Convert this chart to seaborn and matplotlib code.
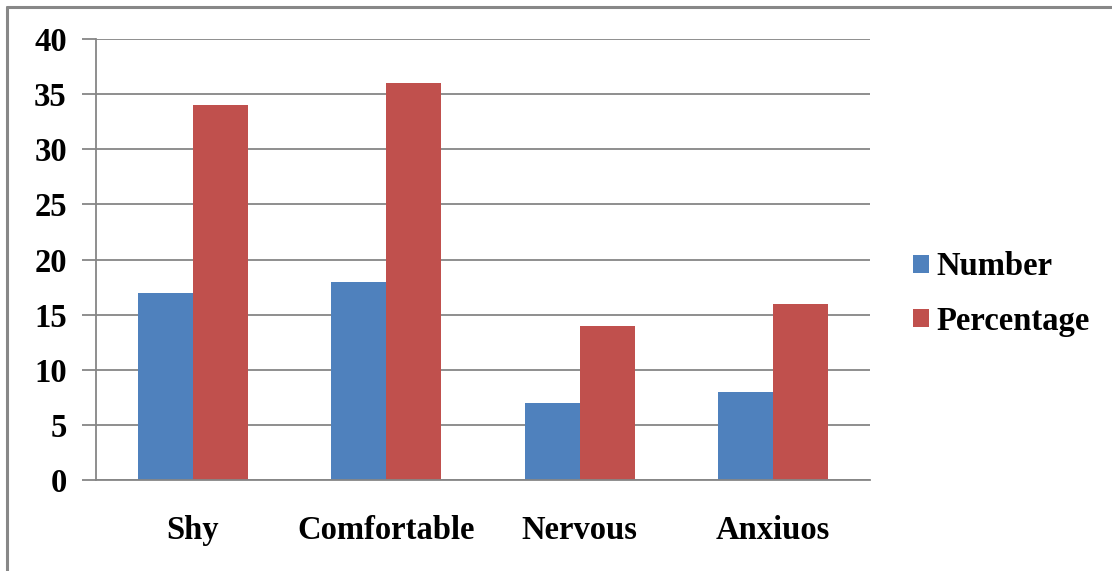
import matplotlib
matplotlib.use("Agg")
import matplotlib.pyplot as plt
from matplotlib.lines import Line2D
from matplotlib.patches import Patch
import seaborn as sns
import pandas as pd

categories = ["Shy", "Comfortable", "Nervous", "Anxiuos"]
number = [17, 18, 7, 8]
percentage = [34, 36, 14, 16]
series_names = ["Number", "Percentage"]
y_ticks = [0, 5, 10, 15, 20, 25, 30, 35, 40]

df = pd.DataFrame({
    "category": categories * 2,
    "series": [series_names[0]] * len(categories) + [series_names[1]] * len(categories),
    "value": number + percentage,
})

sns.set_theme(style="white")
plt.rcParams["font.family"] = ["Liberation Serif", "DejaVu Serif"]
plt.rcParams["font.weight"] = "bold"
plt.rcParams["text.color"] = "black"
plt.rcParams["xtick.labelcolor"] = "black"
plt.rcParams["ytick.labelcolor"] = "black"

FS = 23.5
W, H = 1112, 571
fig = plt.figure(figsize=(W / 100, H / 100), dpi=100)
ax = fig.add_axes([96 / W, 1 - 480 / H, (870 - 96) / W, (480 - 39) / H])

palette = {"Number": "#4F81BD", "Percentage": "#C0504D"}
sns.barplot(data=df, x="category", y="value", hue="series", order=categories,
            hue_order=series_names, palette=palette, width=0.57, gap=0,
            saturation=1, ax=ax, legend=False, linewidth=0, errorbar=None)

grid_c = "#868686"
ax.set_xlim(-0.5, len(categories) - 0.5)
ax.set_ylim(0, 40)
ax.set_yticks(y_ticks)
ax.set_yticklabels([str(t) for t in y_ticks], fontsize=FS, fontweight="bold", color="black")
ax.yaxis.grid(True, color=grid_c, linewidth=1.3)
ax.set_axisbelow(True)

# category boundaries as major ticks, labels at centers as minor ticks
ax.set_xticks([i - 0.5 for i in range(len(categories) + 1)])
ax.set_xticklabels([])
ax.set_xticks(range(len(categories)), minor=True)
ax.set_xticklabels(categories, minor=True, fontsize=FS, fontweight="bold", color="black")
ax.tick_params(axis="x", which="major", length=10, width=1.3, color=grid_c, direction="out")
ax.tick_params(axis="x", which="minor", length=0, pad=25)
ax.tick_params(axis="y", length=10, width=1.3, color=grid_c, direction="out", pad=11, left=True)
ax.set_xlabel("")
ax.set_ylabel("")

for side in ["top", "right"]:
    ax.spines[side].set_visible(False)
for side in ["left", "bottom"]:
    ax.spines[side].set_color(grid_c)
    ax.spines[side].set_linewidth(1.3)

handles = [Patch(facecolor=palette[s], edgecolor="none") for s in series_names]
fig.legend(handles, series_names, loc="center left",
           bbox_to_anchor=(913 / W, 1 - 294 / H), frameon=False,
           prop={"size": FS, "weight": "bold"}, labelcolor="black",
           handlelength=0.48, handleheight=0.48,
           handletextpad=0.25, labelspacing=0.72, borderpad=0, borderaxespad=0)

# outer frame on top and left edges
fig.add_artist(Line2D([6.5 / W, 6.5 / W], [0, 1 - 6.5 / H], transform=fig.transFigure,
                      color="#888888", linewidth=2.2))
fig.add_artist(Line2D([6.5 / W, 1], [1 - 6.5 / H, 1 - 6.5 / H], transform=fig.transFigure,
                      color="#888888", linewidth=2.2))

fig.savefig("out.png", dpi=100, facecolor="white")
